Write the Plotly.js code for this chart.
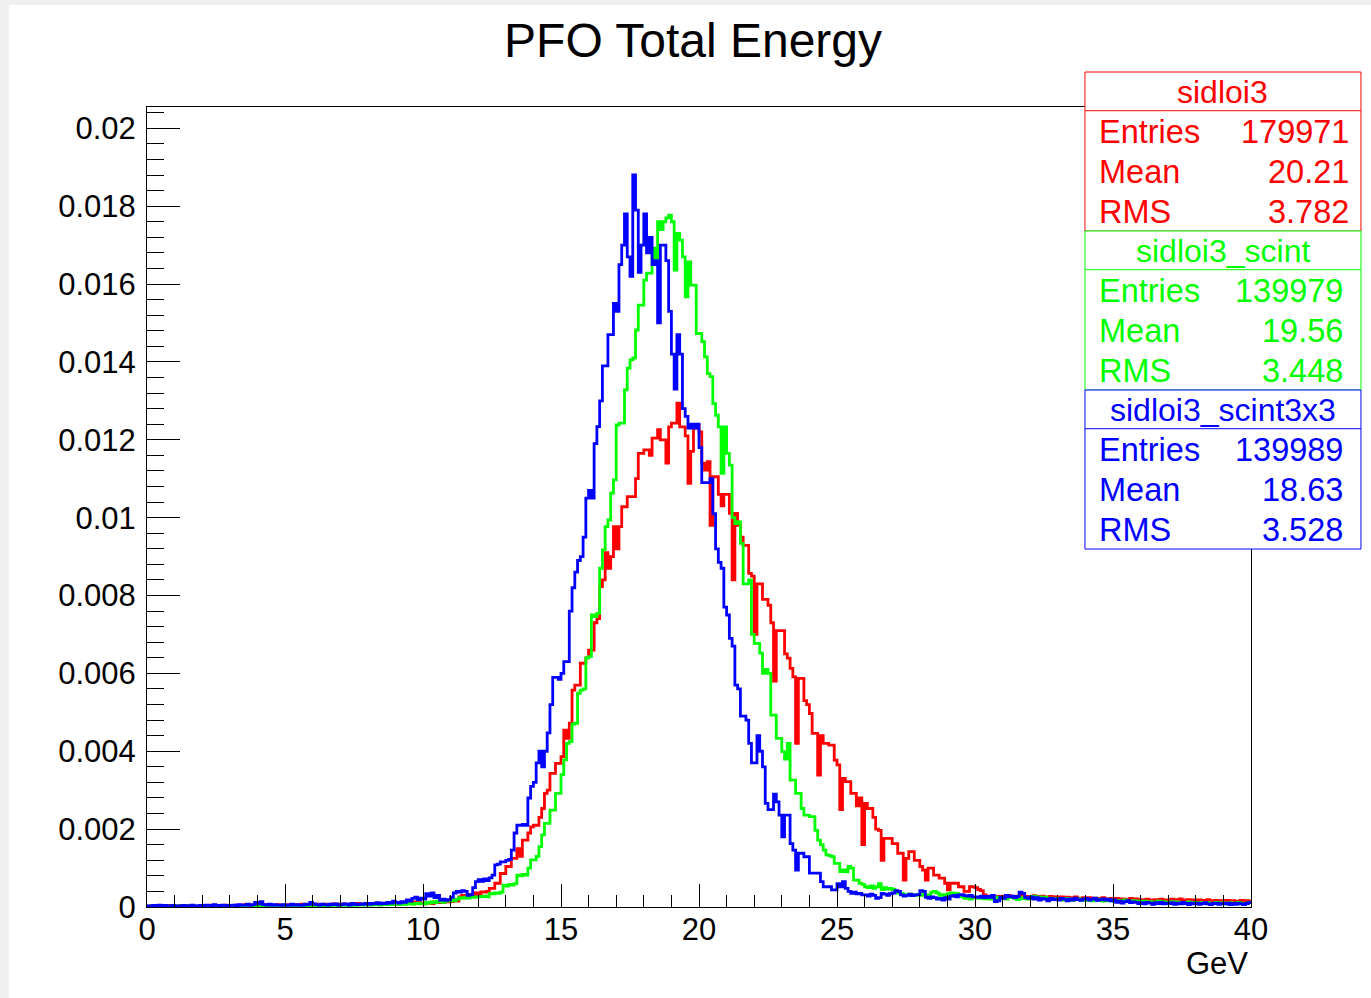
<!DOCTYPE html>
<html><head><meta charset="utf-8">
<script src="https://cdn.plot.ly/plotly-3.0.1.min.js"></script>
<style>
html,body{margin:0;padding:0;background:#f0f0f0;overflow:hidden;}
#chart{position:absolute;left:9px;top:5px;width:1362px;height:993px;background:#fff;}
</style></head><body><div id="chart"></div>
<script>
// ---- data: normalised histograms, 400 bins of 0.1 GeV from 0 to 40 GeV ----
const binWidth = 0.1;
const xStart = 0;

const sidloi3 = [
0.00002,0.00003,0.00001,0.00004,0.00002,0.00003,0.00002,0.00004,0.00003,0.00002,
0.00003,0.00002,0.00004,0.00003,0.00002,0.00004,0.00003,0.00002,0.00003,0.00004,
0.00002,0.00004,0.00003,0.00005,0.00003,0.00002,0.00004,0.00003,0.00005,0.00003,
0.00004,0.00003,0.00005,0.00003,0.00004,0.00006,0.00004,0.00003,0.00005,0.00004,
0.00005,0.00004,0.00006,0.00004,0.00005,0.00003,0.00005,0.00006,0.00004,0.00005,
0.00004,0.00006,0.00005,0.00004,0.00006,0.00005,0.00007,0.00005,0.00004,0.00006,
0.00005,0.00007,0.00006,0.00005,0.00007,0.00006,0.00005,0.00008,0.00006,0.00007,
0.00006,0.00008,0.00007,0.00006,0.00008,0.00007,0.00009,0.00007,0.00008,0.00006,
0.00008,0.00007,0.00009,0.00008,0.00010,0.00008,0.00009,0.00011,0.00009,0.00010,
0.00009,0.00011,0.00010,0.00012,0.00010,0.00011,0.00013,0.00011,0.00012,0.00010,
0.00008,0.00010,0.00012,0.00009,0.00013,0.00011,0.00014,0.00012,0.00015,0.00013,
0.00014,0.00016,0.00015,0.00026,0.00030,0.00028,0.00031,0.00030,0.00032,0.00036,
0.00030,0.00039,0.00038,0.00040,0.00048,0.00048,0.00061,0.00061,0.00086,0.00086,
0.00104,0.00104,0.00125,0.00125,0.00150,0.00130,0.00172,0.00172,0.00190,0.00206,
0.00210,0.00210,0.00230,0.00253,0.00292,0.00300,0.00343,0.00343,0.00369,0.00369,
0.00386,0.00454,0.00433,0.00472,0.00557,0.00570,0.00570,0.00626,0.00626,0.00640,
0.00660,0.00660,0.00730,0.00741,0.00823,0.00840,0.00910,0.00870,0.00900,0.00977,
0.00920,0.00977,0.01028,0.01028,0.01054,0.01054,0.01054,0.01100,0.01165,0.01165,
0.01174,0.01174,0.01160,0.01204,0.01204,0.01226,0.01200,0.01200,0.01140,0.01233,
0.01243,0.01243,0.01294,0.01233,0.01233,0.01210,0.01088,0.01170,0.01230,0.01238,
0.01220,0.01140,0.01122,0.01144,0.00980,0.01105,0.01105,0.01060,0.01030,0.01060,
0.01060,0.01011,0.00840,0.01011,0.00980,0.00950,0.00929,0.00929,0.00857,0.00850,
0.00700,0.00830,0.00830,0.00790,0.00790,0.00775,0.00730,0.00580,0.00710,0.00710,
0.00710,0.00650,0.00639,0.00613,0.00591,0.00420,0.00587,0.00587,0.00530,0.00520,
0.00497,0.00446,0.00446,0.00339,0.00440,0.00420,0.00420,0.00416,0.00416,0.00377,
0.00365,0.00250,0.00330,0.00322,0.00322,0.00292,0.00292,0.00260,0.00280,0.00160,
0.00266,0.00253,0.00253,0.00230,0.00200,0.00197,0.00120,0.00176,0.00176,0.00176,
0.00163,0.00163,0.00138,0.00138,0.00069,0.00125,0.00142,0.00142,0.00120,0.00120,
0.00104,0.00095,0.00069,0.00100,0.00100,0.00082,0.00082,0.00074,0.00074,0.00061,
0.00044,0.00061,0.00061,0.00061,0.00052,0.00052,0.00040,0.00040,0.00052,0.00052,
0.00050,0.00045,0.00042,0.00031,0.00028,0.00025,0.00026,0.00024,0.00027,0.00025,
0.00028,0.00026,0.00029,0.00027,0.00025,0.00028,0.00026,0.00030,0.00027,0.00025,
0.00026,0.00029,0.00027,0.00025,0.00028,0.00026,0.00024,0.00027,0.00025,0.00026,
0.00024,0.00026,0.00023,0.00025,0.00022,0.00024,0.00026,0.00023,0.00021,0.00024,
0.00022,0.00024,0.00021,0.00023,0.00020,0.00022,0.00024,0.00021,0.00019,0.00022,
0.00020,0.00022,0.00019,0.00021,0.00018,0.00020,0.00022,0.00019,0.00021,0.00018,
0.00019,0.00017,0.00020,0.00018,0.00016,0.00019,0.00017,0.00020,0.00018,0.00016,
0.00018,0.00020,0.00017,0.00019,0.00021,0.00018,0.00016,0.00019,0.00017,0.00018,
0.00016,0.00018,0.00015,0.00017,0.00019,0.00016,0.00014,0.00017,0.00015,0.00016,
0.00015,0.00017,0.00014,0.00016,0.00013,0.00015,0.00017,0.00014,0.00016,0.00015
];

const sidloi3_scint = [
0.00002,0.00001,0.00003,0.00002,0.00001,0.00002,0.00003,0.00001,0.00002,0.00002,
0.00001,0.00003,0.00002,0.00001,0.00002,0.00003,0.00002,0.00001,0.00002,0.00003,
0.00002,0.00003,0.00002,0.00004,0.00002,0.00003,0.00002,0.00001,0.00003,0.00002,
0.00003,0.00002,0.00004,0.00003,0.00002,0.00003,0.00004,0.00002,0.00003,0.00004,
0.00003,0.00004,0.00002,0.00003,0.00005,0.00003,0.00004,0.00003,0.00002,0.00004,
0.00003,0.00004,0.00003,0.00005,0.00003,0.00004,0.00002,0.00004,0.00003,0.00005,
0.00004,0.00003,0.00005,0.00004,0.00003,0.00005,0.00004,0.00006,0.00004,0.00005,
0.00004,0.00005,0.00004,0.00006,0.00005,0.00004,0.00006,0.00005,0.00007,0.00005,
0.00006,0.00005,0.00007,0.00006,0.00005,0.00007,0.00006,0.00008,0.00006,0.00007,
0.00007,0.00006,0.00008,0.00007,0.00009,0.00008,0.00007,0.00009,0.00010,0.00008,
0.00008,0.00012,0.00010,0.00014,0.00011,0.00015,0.00013,0.00012,0.00016,0.00015,
0.00018,0.00016,0.00020,0.00024,0.00022,0.00025,0.00023,0.00027,0.00025,0.00026,
0.00026,0.00027,0.00028,0.00026,0.00035,0.00034,0.00036,0.00035,0.00038,0.00056,
0.00054,0.00058,0.00056,0.00060,0.00082,0.00080,0.00084,0.00082,0.00100,0.00121,
0.00121,0.00130,0.00155,0.00185,0.00215,0.00215,0.00249,0.00249,0.00292,0.00292,
0.00340,0.00378,0.00420,0.00425,0.00470,0.00472,0.00549,0.00557,0.00560,0.00640,
0.00643,0.00750,0.00746,0.00754,0.00870,0.00917,0.00977,0.00994,0.01063,0.01097,
0.01238,0.01243,0.01243,0.01328,0.01384,0.01405,0.01410,0.01482,0.01546,0.01546,
0.01610,0.01628,0.01628,0.01692,0.01660,0.01760,0.01740,0.01760,0.01770,0.01777,
0.01760,0.01636,0.01730,0.01713,0.01670,0.01567,0.01657,0.01597,0.01597,0.01473,
0.01473,0.01452,0.01413,0.01370,0.01362,0.01293,0.01263,0.01233,0.01114,0.01233,
0.01165,0.01135,0.01000,0.00985,0.00990,0.00934,0.00830,0.00830,0.00840,0.00700,
0.00677,0.00677,0.00652,0.00600,0.00610,0.00600,0.00493,0.00493,0.00433,0.00433,
0.00399,0.00380,0.00420,0.00326,0.00326,0.00292,0.00292,0.00253,0.00236,0.00236,
0.00232,0.00232,0.00197,0.00172,0.00160,0.00146,0.00134,0.00132,0.00129,0.00112,
0.00112,0.00091,0.00095,0.00090,0.00104,0.00100,0.00069,0.00069,0.00061,0.00058,
0.00052,0.00050,0.00054,0.00048,0.00052,0.00060,0.00045,0.00050,0.00046,0.00048,
0.00045,0.00038,0.00036,0.00035,0.00032,0.00030,0.00033,0.00031,0.00030,0.00032,
0.00030,0.00033,0.00031,0.00028,0.00038,0.00040,0.00036,0.00030,0.00032,0.00029,
0.00034,0.00036,0.00032,0.00035,0.00030,0.00026,0.00022,0.00024,0.00020,0.00024,
0.00024,0.00022,0.00026,0.00021,0.00024,0.00020,0.00023,0.00025,0.00021,0.00024,
0.00022,0.00020,0.00024,0.00026,0.00022,0.00019,0.00024,0.00021,0.00023,0.00020,
0.00025,0.00028,0.00024,0.00026,0.00022,0.00025,0.00021,0.00023,0.00020,0.00022,
0.00019,0.00021,0.00018,0.00022,0.00020,0.00017,0.00019,0.00021,0.00018,0.00020,
0.00017,0.00019,0.00016,0.00018,0.00020,0.00017,0.00015,0.00018,0.00016,0.00017,
0.00015,0.00017,0.00014,0.00016,0.00018,0.00015,0.00013,0.00016,0.00014,0.00015,
0.00013,0.00015,0.00012,0.00014,0.00011,0.00013,0.00015,0.00012,0.00014,0.00011,
0.00012,0.00014,0.00011,0.00013,0.00010,0.00012,0.00011,0.00013,0.00010,0.00012,
0.00011,0.00009,0.00012,0.00010,0.00011,0.00008,0.00010,0.00012,0.00009,0.00011,
0.00010,0.00008,0.00011,0.00009,0.00010,0.00012,0.00008,0.00010,0.00009,0.00011
];

const sidloi3_scint3x3 = [
0.00003,0.00002,0.00004,0.00003,0.00005,0.00002,0.00004,0.00003,0.00002,0.00004,
0.00003,0.00002,0.00003,0.00004,0.00002,0.00003,0.00005,0.00003,0.00002,0.00004,
0.00003,0.00005,0.00004,0.00003,0.00006,0.00004,0.00003,0.00005,0.00004,0.00003,
0.00004,0.00005,0.00003,0.00006,0.00004,0.00005,0.00007,0.00004,0.00006,0.00012,
0.00008,0.00014,0.00006,0.00005,0.00007,0.00004,0.00006,0.00005,0.00004,0.00006,
0.00005,0.00004,0.00007,0.00005,0.00006,0.00004,0.00005,0.00007,0.00006,0.00012,
0.00008,0.00006,0.00005,0.00007,0.00006,0.00005,0.00007,0.00006,0.00008,0.00005,
0.00006,0.00008,0.00007,0.00005,0.00009,0.00007,0.00006,0.00008,0.00007,0.00009,
0.00007,0.00009,0.00008,0.00011,0.00008,0.00010,0.00009,0.00012,0.00010,0.00015,
0.00012,0.00010,0.00014,0.00012,0.00018,0.00015,0.00022,0.00025,0.00019,0.00023,
0.00020,0.00034,0.00028,0.00036,0.00024,0.00030,0.00018,0.00020,0.00017,0.00019,
0.00025,0.00036,0.00040,0.00038,0.00042,0.00040,0.00030,0.00032,0.00050,0.00065,
0.00070,0.00066,0.00072,0.00068,0.00075,0.00082,0.00108,0.00110,0.00116,0.00116,
0.00120,0.00122,0.00146,0.00190,0.00210,0.00210,0.00212,0.00210,0.00280,0.00310,
0.00320,0.00370,0.00400,0.00360,0.00400,0.00447,0.00520,0.00590,0.00590,0.00585,
0.00600,0.00630,0.00630,0.00760,0.00820,0.00860,0.00890,0.00900,0.00950,0.01050,
0.01070,0.01050,0.01190,0.01234,0.01300,0.01390,0.01390,0.01470,0.01470,0.01550,
0.01530,0.01650,0.01700,0.01780,0.01670,0.01620,0.01880,0.01790,0.01630,0.01700,
0.01780,0.01680,0.01720,0.01650,0.01660,0.01500,0.01700,0.01700,0.01660,0.01530,
0.01420,0.01330,0.01470,0.01420,0.01280,0.01260,0.01230,0.01240,0.01230,0.01240,
0.01180,0.01090,0.01090,0.01090,0.01100,0.01010,0.00920,0.00885,0.00870,0.00770,
0.00750,0.00690,0.00670,0.00570,0.00560,0.00490,0.00490,0.00480,0.00420,0.00370,
0.00370,0.00440,0.00400,0.00360,0.00266,0.00250,0.00250,0.00290,0.00270,0.00236,
0.00180,0.00236,0.00236,0.00163,0.00146,0.00095,0.00138,0.00138,0.00129,0.00129,
0.00087,0.00087,0.00087,0.00087,0.00065,0.00052,0.00052,0.00052,0.00044,0.00044,
0.00060,0.00052,0.00065,0.00048,0.00040,0.00035,0.00038,0.00034,0.00035,0.00031,
0.00031,0.00028,0.00033,0.00030,0.00022,0.00024,0.00035,0.00033,0.00030,0.00034,
0.00036,0.00042,0.00040,0.00031,0.00028,0.00030,0.00033,0.00029,0.00031,0.00032,
0.00042,0.00040,0.00025,0.00022,0.00026,0.00024,0.00020,0.00022,0.00018,0.00024,
0.00020,0.00028,0.00030,0.00026,0.00031,0.00032,0.00029,0.00028,0.00030,0.00026,
0.00026,0.00025,0.00028,0.00024,0.00027,0.00025,0.00030,0.00014,0.00016,0.00025,
0.00022,0.00030,0.00026,0.00028,0.00024,0.00027,0.00038,0.00035,0.00024,0.00022,
0.00026,0.00020,0.00024,0.00018,0.00022,0.00020,0.00016,0.00022,0.00019,0.00021,
0.00018,0.00022,0.00020,0.00016,0.00021,0.00018,0.00023,0.00019,0.00017,0.00020,
0.00022,0.00018,0.00020,0.00023,0.00017,0.00019,0.00021,0.00018,0.00020,0.00016,
0.00018,0.00012,0.00015,0.00010,0.00014,0.00016,0.00011,0.00013,0.00012,0.00009,
0.00011,0.00008,0.00012,0.00010,0.00007,0.00011,0.00009,0.00012,0.00008,0.00010,
0.00009,0.00011,0.00007,0.00010,0.00008,0.00012,0.00009,0.00006,0.00010,0.00008,
0.00010,0.00007,0.00009,0.00011,0.00008,0.00006,0.00009,0.00010,0.00007,0.00009,
0.00008,0.00010,0.00006,0.00009,0.00007,0.00010,0.00008,0.00006,0.00009,0.00011
];

// statistics boxes
const seriesNames = ['sidloi3', 'sidloi3_scint', 'sidloi3_scint3x3'];
const seriesColors = ['#ff0000', '#00ff00', '#0000ff'];
const statLabels = ['Entries', 'Mean', 'RMS'];
const statEntries = ['179971', '139979', '139989'];
const statMeans = ['20.21', '19.56', '18.63'];
const statRMS = ['3.782', '3.448', '3.528'];

const chartTitle = 'PFO Total Energy';
const xAxisLabel = 'GeV';

// ---- build step traces ----
function edges(n) {
  const xs = [];
  for (let i = 0; i <= n; i++) xs.push(+(xStart + i * binWidth).toFixed(3));
  return xs;
}
function stepY(v) { return v.concat([v[v.length - 1]]); }

const allSeries = [sidloi3, sidloi3_scint, sidloi3_scint3x3];
const traces = allSeries.map((vals, k) => ({
  type: 'scatter', mode: 'lines',
  x: edges(vals.length), y: stepY(vals),
  name: seriesNames[k],
  line: { color: seriesColors[k], width: 2.8, shape: 'hv' },
  hoverinfo: 'skip'
}));

const FONT = 'Liberation Sans, Arial, Helvetica, sans-serif';

// layout geometry of the stats boxes (paper coordinates)
const boxX0 = 0.8496, boxX1 = 1.0996;
const boxTops = [1.04375, 0.845, 0.64625];
const boxH = 0.19875;
const titleH = 0.04838;
const shapes = [], annotations = [];
for (let k = 0; k < 3; k++) {
  const top = boxTops[k], bot = top - boxH, sep = top - titleH;
  shapes.push({type: 'rect', xref: 'paper', yref: 'paper', x0: boxX0, x1: boxX1, y0: bot, y1: top,
    line: {color: seriesColors[k], width: 1}, fillcolor: '#ffffff', layer: 'above'});
  shapes.push({type: 'line', xref: 'paper', yref: 'paper', x0: boxX0, x1: boxX1, y0: sep, y1: sep,
    line: {color: seriesColors[k], width: 1}, layer: 'above'});
  annotations.push({xref: 'paper', yref: 'paper', x: 0.9746, y: top - 0.0246, xanchor: 'center', yanchor: 'middle',
    text: seriesNames[k], showarrow: false, font: {family: FONT, size: 32, color: seriesColors[k]}});
  const vals = [statEntries[k], statMeans[k], statRMS[k]];
  const vx = k === 0 ? 1.0906 : 1.0851;
  for (let r = 0; r < 3; r++) {
    const y = top - 0.0746 - r * 0.05;
    annotations.push({xref: 'paper', yref: 'paper', x: 0.8602, y: y, xanchor: 'left', yanchor: 'middle',
      text: statLabels[r], showarrow: false, font: {family: FONT, size: 32.5, color: seriesColors[k]}});
    annotations.push({xref: 'paper', yref: 'paper', x: vx, y: y, xanchor: 'right', yanchor: 'middle',
      text: vals[r], showarrow: false, font: {family: FONT, size: 32.5, color: seriesColors[k]}});
  }
}
annotations.push({xref: 'paper', yref: 'paper', x: 0.9991, y: -0.07, xanchor: 'right', yanchor: 'middle',
  text: xAxisLabel, showarrow: false, font: {family: FONT, size: 31, color: '#000'}});

const layout = {
  width: 1362, height: 993,
  margin: {l: 138, r: 120, t: 102, b: 91, pad: 0},
  paper_bgcolor: '#ffffff', plot_bgcolor: '#ffffff',
  showlegend: false,
  title: {text: chartTitle, font: {family: FONT, size: 48, color: '#000'},
    xref: 'paper', x: 0.4946, xanchor: 'center', yref: 'container', y: 0.9648, yanchor: 'middle'},
  xaxis: {
    range: [0, 40], tick0: 0, dtick: 5, ticks: 'inside', ticklen: 23, tickwidth: 1, tickcolor: '#000',
    showline: true, linecolor: '#000', linewidth: 1, mirror: true, showgrid: false, zeroline: false,
    ticklabelstandoff: -5,
    tickfont: {family: FONT, size: 31, color: '#000'},
    minor: {dtick: 1, ticks: 'inside', ticklen: 12, tickwidth: 1, tickcolor: '#000', showgrid: false}
  },
  yaxis: {
    range: [0, 0.020547], tick0: 0, dtick: 0.002, ticks: 'inside', ticklen: 33, tickwidth: 1, tickcolor: '#000',
    showline: true, linecolor: '#000', linewidth: 1, mirror: true, showgrid: false, zeroline: false,
    ticklabelstandoff: 4,
    tickfont: {family: FONT, size: 31, color: '#000'},
    minor: {dtick: 0.0004, ticks: 'inside', ticklen: 17, tickwidth: 1, tickcolor: '#000', showgrid: false}
  },
  shapes: shapes,
  annotations: annotations
};

Plotly.newPlot('chart', traces, layout, {displayModeBar: false, staticPlot: true});
</script>
</body></html>
